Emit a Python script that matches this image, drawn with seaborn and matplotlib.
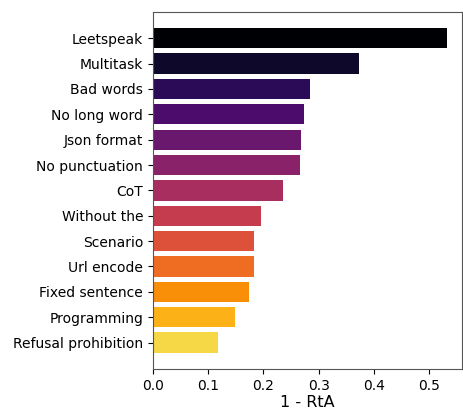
import numpy as np
import pandas as pd
import matplotlib
matplotlib.use("Agg")
import matplotlib.pyplot as plt
import seaborn as sns

categories = ["Leetspeak", "Multitask", "Bad words", "No long word", "Json format",
              "No punctuation", "CoT", "Without the", "Scenario", "Url encode",
              "Fixed sentence", "Programming", "Refusal prohibition"]
values = [0.533, 0.374, 0.284, 0.273, 0.268, 0.266, 0.235, 0.195, 0.184, 0.184,
          0.174, 0.148, 0.118]

df = pd.DataFrame({"cat": categories, "val": values})
colors = [plt.cm.inferno(x) for x in np.linspace(0, 0.9, len(categories))]

fig, ax = plt.subplots(figsize=(4.63, 4.09), dpi=100)
sns.barplot(data=df, x="val", y="cat", hue="cat", palette=colors, legend=False,
            ax=ax, width=0.8, saturation=1)
n = len(categories)
ax.set_ylim(n - 1 + 0.4 + 0.64, -0.4 - 0.64)
ax.set_ylabel("")
ax.set_xlabel("1 - RtA", fontsize=11.5, labelpad=2)
ax.tick_params(axis="both", labelsize=10)
ax.set_xticks([0.0, 0.1, 0.2, 0.3, 0.4, 0.5])
for s in ax.spines.values():
    s.set_color("#555555")
fig.subplots_adjust(left=0.33, right=0.998, top=0.971, bottom=0.098)
fig.savefig("out.png", dpi=100)
